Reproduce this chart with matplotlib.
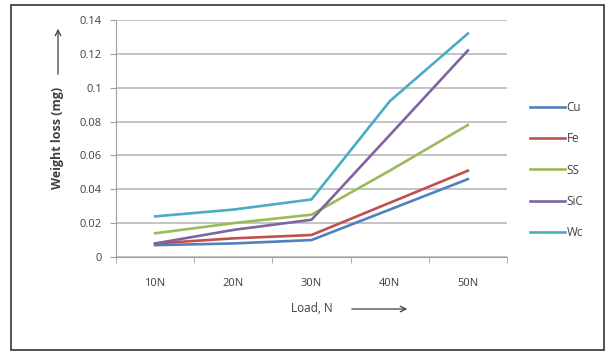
import numpy as np
import matplotlib
matplotlib.use("Agg")
import matplotlib.pyplot as plt
from matplotlib.patches import Rectangle, FancyArrowPatch

plt.rcParams['font.family'] = ['Open Sans', 'DejaVu Sans']

# data
loads = ['10N', '20N', '30N', '40N', '50N']
cu = [0.007, 0.008, 0.010, 0.028, 0.046]
fe = [0.008, 0.011, 0.013, 0.032, 0.051]
ss = [0.014, 0.020, 0.025, 0.051, 0.078]
sic = [0.008, 0.016, 0.022, 0.072, 0.122]
wc = [0.024, 0.028, 0.034, 0.092, 0.132]
names = ['Cu', 'Fe', 'SS', 'SiC', 'Wc']
colors = ['#4F81BD', '#C0504D', '#9BBB59', '#8064A2', '#4BACC6']

fig = plt.figure(figsize=(6.05, 3.52), dpi=100)
fig.patches.append(Rectangle((11/605, 2/352), 593/605, 345/352, transform=fig.transFigure,
                             fill=False, edgecolor='#333333', linewidth=1.2))

ax = fig.add_axes([116/605, 1-257/352, 391/605, 237/352])
x = np.arange(len(loads))
for vals, name, c in zip([cu, fe, ss, sic, wc], names, colors):
    ax.plot(x, vals, color=c, linewidth=1.9, label=name)

ax.set_xlim(-0.5, 4.5)
ax.set_ylim(0, 0.14)
ax.set_yticks(np.arange(0, 0.141, 0.02))
ax.set_yticklabels(['0', '0.02', '0.04', '0.06', '0.08', '0.1', '0.12', '0.14'])
ax.set_xticks(x)
ax.set_xticklabels(loads)
ax.set_xticks(np.arange(-0.5, 4.6, 1), minor=True)
ax.tick_params(axis='x', which='major', length=0, pad=15, labelsize=8, labelcolor='#404040')
ax.tick_params(axis='x', which='minor', length=4, color='#A0A0A0', direction='out')
ax.tick_params(axis='y', length=4, color='#A0A0A0', labelsize=8, labelcolor='#404040', pad=6)
ax.grid(axis='y', color='#BFBFBF', linewidth=1.3)
ax.set_axisbelow(True)
for s in ['top', 'right']:
    ax.spines[s].set_visible(False)
ax.spines['left'].set_color('#A0A0A0')
ax.spines['bottom'].set_color('#A0A0A0')

ax.legend(loc='center left', bbox_to_anchor=(530/605, 1-170/352), bbox_transform=fig.transFigure,
          frameon=False, fontsize=8.5, handlelength=3.0, handletextpad=0.1, labelspacing=1.55,
          labelcolor='#404040', borderaxespad=0, borderpad=0)

# axis titles with arrows
fig.text(58/605, 1-138/352, 'Weight loss (mg)', rotation=90, ha='center', va='center',
         fontsize=9, fontweight='bold', color='#404040')
fig.add_artist(FancyArrowPatch((58/605, 1-77/352), (58/605, 1-26/352),
               transform=fig.transFigure, arrowstyle='->', mutation_scale=10,
               color='#404040', linewidth=0.9))
fig.text(312/605, 1-309/352, 'Load, N', ha='center', va='center', fontsize=8.5, color='#404040')
fig.add_artist(FancyArrowPatch((349/605, 1-309/352), (410/605, 1-309/352),
               transform=fig.transFigure, arrowstyle='->', mutation_scale=10,
               color='#404040', linewidth=0.9))

fig.savefig('out.png', dpi=100)
